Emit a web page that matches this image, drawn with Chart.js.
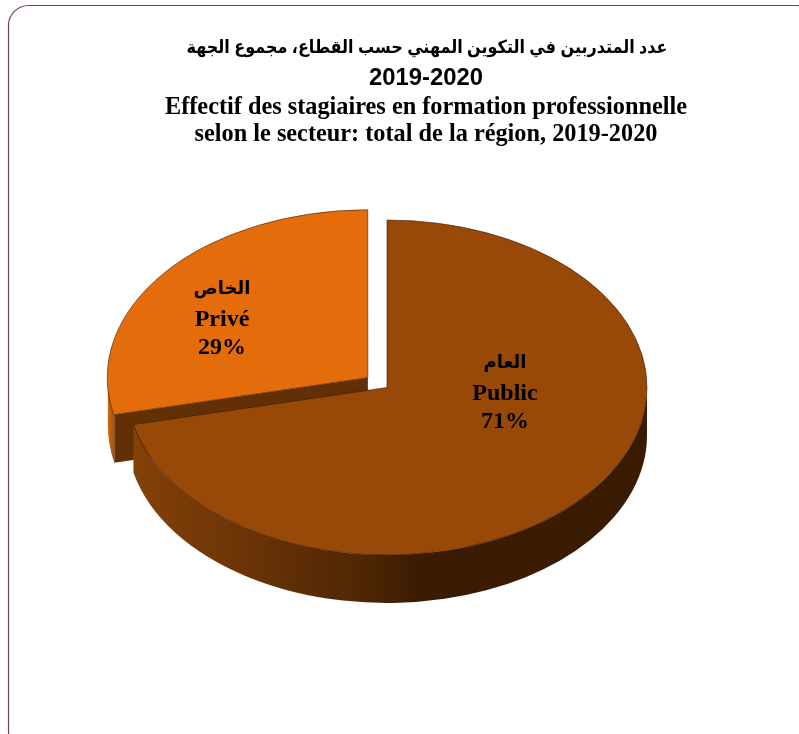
<!DOCTYPE html>
<html>
<head>
<meta charset="utf-8">
<title>Effectif des stagiaires</title>
<script src="https://cdn.jsdelivr.net/npm/chart.js@4/dist/chart.umd.js"></script>
<style>
  html, body { margin: 0; padding: 0; background: #fff; overflow: hidden; }
  canvas { display: block; }
</style>
</head>
<body>
<canvas id="pie3d" width="799" height="734"></canvas>
<script>
// Data
const categoriesAr = ['العام', 'الخاص'];
const categoriesFr = ['Public', 'Privé'];
const shares = [71.45, 28.55];
const titleAr = ['عدد المتدربين في التكوين المهني حسب القطاع، مجموع الجهة', '2019-2020'];
const titleFr = ['Effectif des stagiaires en formation professionnelle', 'selon le secteur: total de la région, 2019-2020'];

// Look of the 3D pie
const topColors = ['#984807', '#e46c0a'];
const sliceOffsets = [0, 98];
const radius = 260;
const flatten = 167.5 / 260; // ellipse height / width
const depth = 48;
const centerY = 387.5;
const labelCenters = [[505, 394], [222, 320]];

function frontWall(ctx, cx, cy, a0, a1, fill) {
  // visible part of the outer wall: the front half of the ellipse
  const from = Math.max(a0, 0);
  const to = Math.min(a1, Math.PI);
  if (to <= from) return;
  ctx.beginPath();
  ctx.ellipse(cx, cy, radius, radius * flatten, 0, from, to);
  ctx.ellipse(cx, cy + depth, radius, radius * flatten, 0, to, from, true);
  ctx.closePath();
  ctx.fillStyle = fill;
  ctx.fill();
}

const pie3dPlugin = {
  id: 'pie3d',
  beforeDraw(chart) {
    // rounded frame, runs off the right and bottom of the page
    const ctx = chart.ctx;
    ctx.save();
    ctx.fillStyle = '#fff';
    ctx.fillRect(0, 0, chart.width, chart.height);
    ctx.beginPath();
    ctx.roundRect(8.5, 5.5, 808, 745, 20);
    ctx.strokeStyle = '#7b3f42';
    ctx.lineWidth = 1.2;
    ctx.stroke();
    ctx.restore();
  },
  beforeDatasetsDraw(chart) {
    const ctx = chart.ctx;
    const arcs = chart.getDatasetMeta(0).data;
    const pub = arcs[0];
    const priv = arcs[1];

    ctx.save();
    // private slice walls go first, the public slice covers them
    const mid = (priv.startAngle + priv.endAngle) / 2;
    const px = priv.x + Math.cos(mid) * sliceOffsets[1] / 4;
    const py = centerY + Math.sin(mid) * sliceOffsets[1] / 4 * flatten;
    const gp = ctx.createLinearGradient(107, 0, 114, 0);
    gp.addColorStop(0, '#d9690d');
    gp.addColorStop(1, '#a4520c');
    frontWall(ctx, px, py, priv.startAngle, priv.endAngle, gp);
    const ex = px + Math.cos(priv.startAngle) * radius;
    const ey = py + Math.sin(priv.startAngle) * radius * flatten;
    ctx.beginPath();
    ctx.moveTo(px, py);
    ctx.lineTo(ex, ey);
    ctx.lineTo(ex, ey + depth);
    ctx.lineTo(px, py + depth);
    ctx.closePath();
    ctx.fillStyle = '#633005';
    ctx.fill();

    const g = ctx.createLinearGradient(132, 0, 647, 0);
    g.addColorStop(0, '#844109');
    g.addColorStop(0.25, '#673206');
    g.addColorStop(0.47, '#4c2504');
    g.addColorStop(0.55, '#3b1c03');
    g.addColorStop(1, '#3a1b02');
    frontWall(ctx, pub.x, centerY, pub.startAngle, pub.endAngle, g);
    ctx.restore();

    // flatten the pie for the top faces
    ctx.save();
    ctx.translate(0, centerY);
    ctx.scale(1, flatten);
    ctx.translate(0, -centerY);
  },
  afterDatasetsDraw(chart) {
    chart.ctx.restore();
  },
  afterDraw(chart) {
    const ctx = chart.ctx;
    ctx.save();
    ctx.fillStyle = '#000';
    ctx.textAlign = 'center';
    ctx.textBaseline = 'middle';

    // titles
    ctx.direction = 'rtl';
    ctx.font = 'bold 18px "Liberation Sans", "DejaVu Sans", sans-serif';
    ctx.fillText(titleAr[0], 427, 48, 481);
    ctx.direction = 'ltr';
    ctx.font = 'bold 23.8px "Liberation Sans", sans-serif';
    ctx.fillText(titleAr[1], 426, 78);
    ctx.font = 'bold 24.3px "Liberation Serif", serif';
    ctx.fillText(titleFr[0], 426, 108);
    ctx.fillText(titleFr[1], 426, 135);

    // slice labels
    const total = shares.reduce((a, b) => a + b, 0);
    shares.forEach((v, i) => {
      const [x, y] = labelCenters[i];
      ctx.direction = 'rtl';
      ctx.font = 'bold 18px "Liberation Serif", "DejaVu Sans", serif';
      ctx.fillText(categoriesAr[i], x, y - 31);
      ctx.direction = 'ltr';
      ctx.font = 'bold 24px "Liberation Serif", serif';
      ctx.fillText(categoriesFr[i], x, y);
      ctx.fillText(Math.round(v / total * 100) + '%', x, y + 28);
    });
    ctx.restore();
  },
};

new Chart(document.getElementById('pie3d').getContext('2d'), {
  type: 'pie',
  data: {
    labels: categoriesFr,
    datasets: [
      {
        data: shares,
        backgroundColor: topColors,
        borderColor: 'rgba(50, 25, 5, 0.7)',
        borderWidth: 1,
        offset: sliceOffsets,
      },
    ],
  },
  options: {
    responsive: false,
    animation: false,
    radius: radius,
    layout: { padding: { left: 0, right: 25, top: 41, bottom: 0 } },
    plugins: {
      legend: { display: false },
      title: { display: false },
      tooltip: { enabled: false },
    },
  },
  plugins: [pie3dPlugin],
});
</script>
</body>
</html>
